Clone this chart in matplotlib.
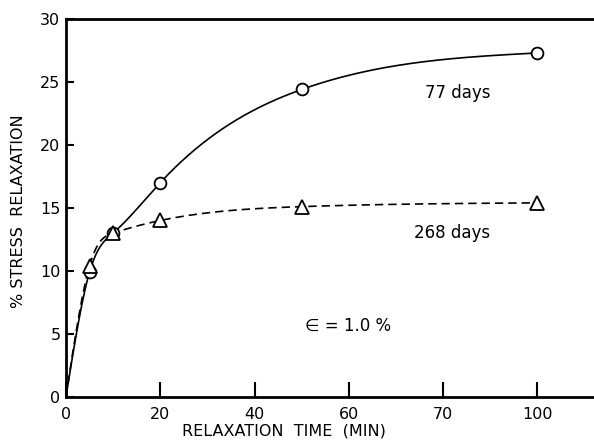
import numpy as np
import matplotlib
matplotlib.use("Agg")
import matplotlib.pyplot as plt

# relaxation times (min) and % stress relaxation for both ages
times = [0, 5, 10, 20, 50, 100]
relax_77 = [0, 9.9, 13.0, 17.0, 24.4, 27.3]
relax_268 = [0, 10.4, 13.0, 14.0, 15.1, 15.4]

xtick_pos = [0, 20, 40, 60, 80, 100]
xtick_labels = ["0", "20", "40", "60", "70", "100"]
ytick_pos = [0, 5, 10, 15, 20, 25, 30]


def spline(x, y, xs):
    # natural cubic spline through the measured points
    x = np.asarray(x, float)
    y = np.asarray(y, float)
    n = len(x)
    h = np.diff(x)
    d = np.diff(y) / h
    A = np.zeros((n, n))
    b = np.zeros(n)
    A[0, 0] = A[-1, -1] = 1
    for i in range(1, n - 1):
        A[i, i - 1] = h[i - 1]
        A[i, i] = 2 * (h[i - 1] + h[i])
        A[i, i + 1] = h[i]
        b[i] = 6 * (d[i] - d[i - 1])
    M = np.linalg.solve(A, b)
    k = np.clip(np.searchsorted(x, xs) - 1, 0, n - 2)
    a = x[k + 1] - xs
    c = xs - x[k]
    hk = h[k]
    return (M[k] * a**3 / (6 * hk) + M[k + 1] * c**3 / (6 * hk)
            + (y[k] / hk - M[k] * hk / 6) * a
            + (y[k + 1] / hk - M[k + 1] * hk / 6) * c)


plt.rcParams["font.family"] = "DejaVu Sans"
fig = plt.figure(figsize=(5.94, 4.40), dpi=100)
ax = fig.add_axes([0.111, 0.098, 0.889, 0.859])

xs = np.linspace(0, 100, 500)
ax.plot(xs, spline(times, relax_77, xs), color="black", lw=1.2)
ax.plot(xs, spline(times, relax_268, xs), color="black", lw=1.2,
        ls=(0, (5, 3)))
ax.plot(times[1:], relax_77[1:], "o", ms=8.5, mfc="white", mec="black",
        mew=1.3, ls="none")
ax.plot(times[1:], relax_268[1:], "^", ms=10, mfc="white", mec="black",
        mew=1.3, ls="none")

ax.text(83, 24.1, "77 days", fontsize=12, ha="center", va="center")
ax.text(82, 13.0, "268 days", fontsize=12, ha="center", va="center")
ax.text(50.7, 5.6, "\u2208 = 1.0 %", fontsize=12, ha="left", va="center")

ax.set_xlim(0, 112)
ax.set_ylim(0, 30)
ax.set_xticks(xtick_pos)
ax.set_xticklabels(xtick_labels)
ax.set_yticks(ytick_pos)
ax.tick_params(axis="x", direction="in", length=11, width=1.5,
               labelsize=11.5, pad=7)
ax.tick_params(axis="y", direction="in", length=6, width=1.5,
               labelsize=11.5, pad=4)
ax.spines["right"].set_visible(False)
for s in ("left", "bottom", "top"):
    ax.spines[s].set_linewidth(2)

ax.set_xlabel("RELAXATION  TIME  (MIN)", fontsize=11.5)
ax.xaxis.set_label_coords(0.413, -0.071)
ax.set_ylabel("% STRESS  RELAXATION", fontsize=11.5)
ax.yaxis.set_label_coords(-0.076, 0.49)

fig.savefig("out.png", dpi=100)
